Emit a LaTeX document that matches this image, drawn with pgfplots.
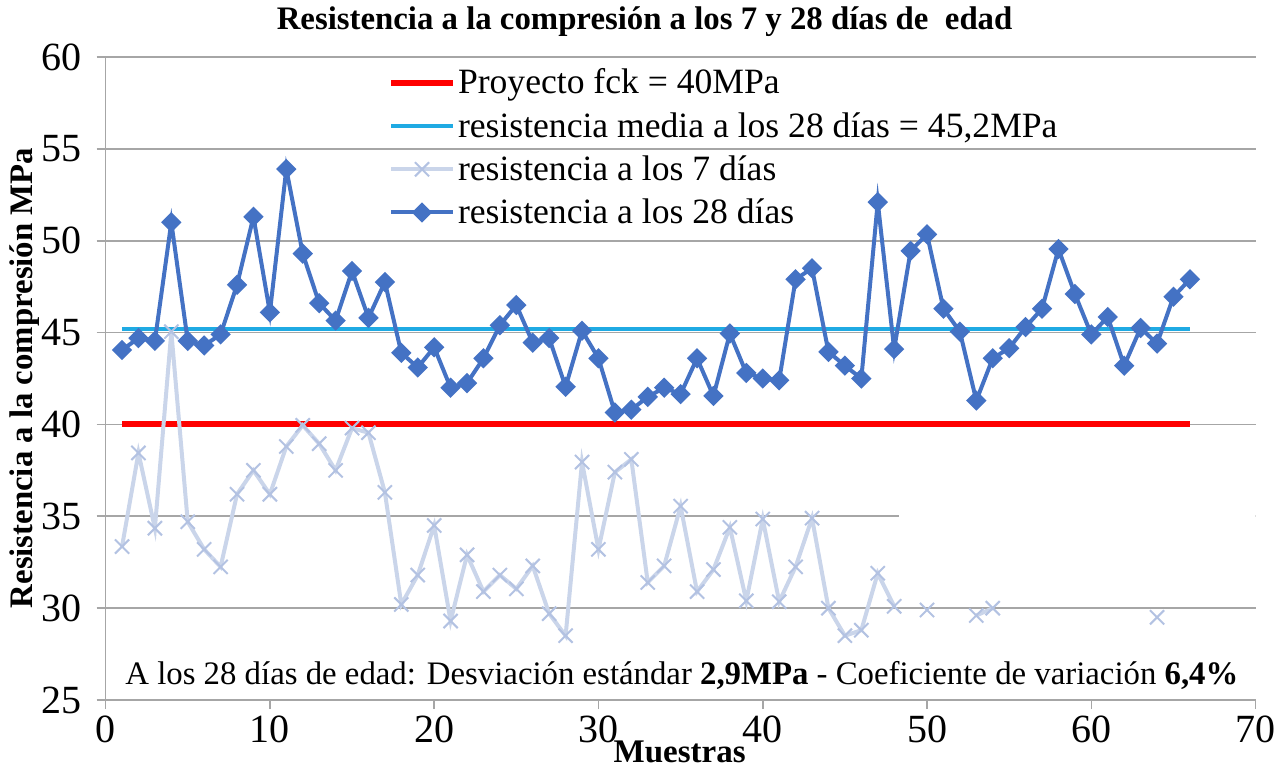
\documentclass[border=0pt]{standalone}
\usepackage{fontspec}
\setmainfont{Liberation Serif}
\usepackage{pgfplots}
\pgfplotsset{compat=1.18}
\definecolor{c28}{HTML}{4472C4}
\definecolor{c7}{HTML}{CAD5EA}
\definecolor{c7m}{HTML}{B3C2E2}
\definecolor{cmed}{HTML}{1FAAE3}
\definecolor{cgrid}{HTML}{A6A6A6}
\begin{document}
\begin{tikzpicture}
\begin{axis}[
  scale only axis, width=575pt, height=321.5pt,
  xmin=0, xmax=70, ymin=25, ymax=60,
  xtick={0,10,...,70}, ytick={25,30,...,60},
  axis x line=bottom, axis y line=left,
  axis line style={cgrid, line width=0.8pt, -},
  ymajorgrids, grid style={cgrid, line width=0.8pt},
  tick align=outside, major tick length=4.5pt,
  tick style={cgrid, line width=0.8pt},
  ticklabel style={font=\fontsize{20}{23}\selectfont, text=black},
  yticklabel style={xshift=-4pt},
  /pgf/number format/assume math mode=true,
  legend style={draw=none, fill=none, at={(0.24,0.99)}, anchor=north west,
    font=\fontsize{17.8}{21}\selectfont, row sep=6.7pt,
    nodes={inner xsep=1pt, inner ysep=0.5pt}},
  legend cell align=left,
  legend image code/.code={\draw[mark repeat=2,mark phase=2,#1] plot coordinates {(0pt,0pt)(15.5pt,0pt)(31pt,0pt)};},
]
\addplot[red, line width=3pt] coordinates {(1,40) (66,40)};
\addlegendentry{Proyecto fck = 40MPa}
\addplot[cmed, line width=2pt] coordinates {(1,45.2) (66,45.2)};
\addlegendentry{resistencia media a los 28 días = 45,2MPa}
\addplot[c7, line width=2pt, mark=x, mark size=5pt, mark options={c7m, line width=1pt}] coordinates {
(1,33.35)(2,38.45)(3,34.35)(4,45.05)(5,34.7)(6,33.2)(7,32.25)(8,36.2)(9,37.5)(10,36.2)
(11,38.8)(12,39.95)(13,38.95)(14,37.5)(15,39.8)(16,39.55)(17,36.3)(18,30.2)(19,31.8)(20,34.5)
(21,29.3)(22,32.9)(23,30.9)(24,31.8)(25,31.05)(26,32.3)(27,29.7)(28,28.5)(29,37.95)(30,33.2)
(31,37.4)(32,38.1)(33,31.4)(34,32.3)(35,35.55)(36,30.9)(37,32.1)(38,34.4)(39,30.4)(40,34.85)
(41,30.35)(42,32.25)(43,34.9)(44,30.0)(45,28.5)(46,28.8)(47,31.9)(48,30.1)};
\addlegendentry{resistencia a los 7 días}
\addplot[c7, line width=2pt, mark=x, mark size=5pt, mark options={c7m, line width=1pt}, forget plot] coordinates {(50,29.9)};
\addplot[c7, line width=2pt, mark=x, mark size=5pt, mark options={c7m, line width=1pt}, forget plot] coordinates {(53,29.6)(54,30.0)};
\addplot[c7, line width=2pt, mark=x, mark size=5pt, mark options={c7m, line width=1pt}, forget plot] coordinates {(64,29.5)};
\addplot[fill=white, draw=none, forget plot] coordinates {(48.3,30.12)(70,30.12)(70,35.4)(48.3,35.4)} -- cycle;
\addplot[c28, line width=2pt, mark=square*, mark size=2.6pt, mark options={rotate=45, solid}] coordinates {
(1,44.05)(2,44.7)(3,44.55)(4,51.0)(5,44.55)(6,44.3)(7,44.9)(8,47.6)(9,51.3)(10,46.1)
(11,53.9)(12,49.3)(13,46.6)(14,45.65)(15,48.35)(16,45.8)(17,47.75)(18,43.9)(19,43.1)(20,44.2)
(21,42.0)(22,42.25)(23,43.6)(24,45.4)(25,46.5)(26,44.45)(27,44.7)(28,42.05)(29,45.1)(30,43.6)
(31,40.65)(32,40.8)(33,41.5)(34,42.0)(35,41.65)(36,43.6)(37,41.55)(38,44.95)(39,42.8)(40,42.5)
(41,42.4)(42,47.9)(43,48.5)(44,43.95)(45,43.2)(46,42.5)(47,52.1)(48,44.1)(49,49.45)(50,50.35)
(51,46.3)(52,45.05)(53,41.3)(54,43.6)(55,44.15)(56,45.3)(57,46.3)(58,49.55)(59,47.1)(60,44.9)
(61,45.85)(62,43.2)(63,45.25)(64,44.4)(65,46.95)(66,47.9)};
\addlegendentry{resistencia a los 28 días}
\node[anchor=west, inner sep=0pt, font=\fontsize{16.4}{19}\selectfont] at (axis cs:1.18,26.36)
  {A los 28 días de edad: Desviación estándar \textbf{2,9MPa} - Coeficiente de variación \textbf{6,4\%}};
\end{axis}
\node[font=\bfseries\fontsize{16.4}{19}\selectfont] at (269.5pt,339pt) {Resistencia a la compresión a los 7 y 28 días de\ \ edad};
\node[font=\bfseries\fontsize{16.4}{19}\selectfont, rotate=90] at (-40.3pt,161pt) {Resistencia a la compresión MPa};
\node[font=\bfseries\fontsize{16.5}{19}\selectfont] at (287pt,-26pt) {Muestras};
\pgfresetboundingbox
\path (-52.8pt,-34pt) rectangle (586.7pt,350pt);
\end{tikzpicture}
\end{document}
